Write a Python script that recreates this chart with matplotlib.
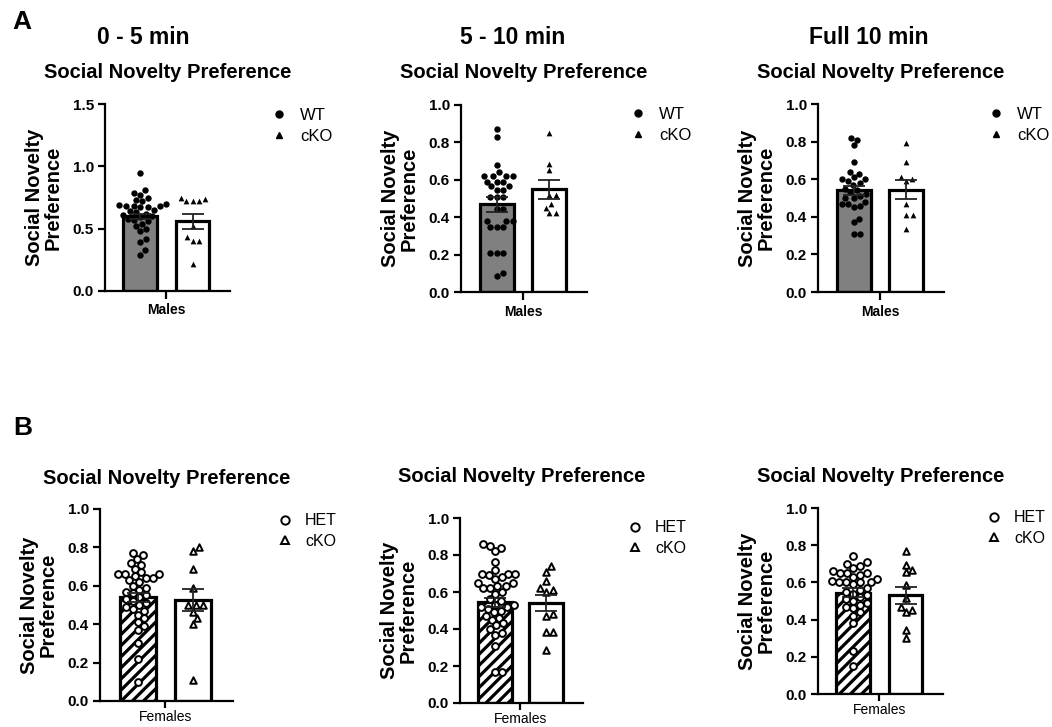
import numpy as np
import matplotlib
matplotlib.use("Agg")
import matplotlib.pyplot as plt
from matplotlib.lines import Line2D

plt.rcParams['font.family'] = ['Liberation Sans', 'DejaVu Sans']
plt.rcParams['hatch.linewidth'] = 2.3

# ---- data ----
time_titles = ["0 - 5 min", "5 - 10 min", "Full 10 min"]
panel_title = "Social Novelty Preference"
ylabel = "Social Novelty\nPreference"

# A: males (WT vs cKO)
males_wt_0_5 = [0.95, 0.81, 0.79, 0.77, 0.75, 0.73, 0.72, 0.70, 0.69, 0.68, 0.68, 0.68,
                0.67, 0.67, 0.65, 0.64, 0.63, 0.62, 0.61, 0.60, 0.59, 0.58, 0.57, 0.56,
                0.54, 0.52, 0.50, 0.48, 0.42, 0.39, 0.33, 0.29]
males_cko_0_5 = [0.74, 0.72, 0.72, 0.72, 0.75, 0.52, 0.43, 0.40, 0.40, 0.22]
males_wt_5_10 = [0.87, 0.83, 0.68, 0.64, 0.62, 0.62, 0.62, 0.62, 0.59, 0.59, 0.59,
                 0.565, 0.565, 0.545, 0.545, 0.51, 0.51, 0.51, 0.445, 0.445, 0.38,
                 0.38, 0.38, 0.35, 0.35, 0.35, 0.21, 0.21, 0.21, 0.10, 0.085]
males_cko_5_10 = [0.85, 0.685, 0.65, 0.52, 0.52, 0.45, 0.42, 0.47, 0.42]
males_wt_full = [0.82, 0.81, 0.78, 0.69, 0.64, 0.63, 0.61, 0.60, 0.60, 0.59, 0.58, 0.57,
                 0.55, 0.54, 0.53, 0.52, 0.51, 0.50, 0.50, 0.48, 0.47, 0.47, 0.46, 0.45,
                 0.39, 0.37, 0.31, 0.31]
males_cko_full = [0.79, 0.69, 0.61, 0.59, 0.60, 0.47, 0.41, 0.41, 0.335]

# B: females (HET vs cKO)
females_het_0_5 = [0.77, 0.76, 0.74, 0.72, 0.71, 0.69, 0.67, 0.66, 0.66, 0.66, 0.65, 0.64,
                   0.64, 0.63, 0.62, 0.60, 0.59, 0.58, 0.57, 0.56, 0.55, 0.54, 0.53, 0.52,
                   0.51, 0.50, 0.49, 0.48, 0.47, 0.45, 0.43, 0.41, 0.39, 0.37, 0.30, 0.22,
                   0.10]
females_cko_0_5 = [0.78, 0.80, 0.69, 0.59, 0.50, 0.50, 0.50, 0.465, 0.43, 0.40, 0.11]
females_het_5_10 = [0.86, 0.85, 0.84, 0.82, 0.76, 0.72, 0.70, 0.70, 0.70, 0.69, 0.68, 0.67,
                    0.65, 0.65, 0.63, 0.63, 0.62, 0.62, 0.60, 0.59, 0.56, 0.55, 0.53, 0.53,
                    0.52, 0.52, 0.51, 0.50, 0.49, 0.47, 0.46, 0.45, 0.43, 0.42, 0.40, 0.38,
                    0.37, 0.31, 0.17, 0.17]
females_cko_5_10 = [0.74, 0.71, 0.66, 0.62, 0.61, 0.60, 0.48, 0.47, 0.385, 0.385, 0.285]
females_het_full = [0.74, 0.71, 0.70, 0.69, 0.68, 0.66, 0.65, 0.65, 0.65, 0.64, 0.63, 0.62,
                    0.61, 0.60, 0.60, 0.60, 0.60, 0.59, 0.57, 0.56, 0.55, 0.54, 0.53, 0.52,
                    0.51, 0.50, 0.49, 0.48, 0.47, 0.46, 0.44, 0.42, 0.38, 0.23, 0.15]
females_cko_full = [0.77, 0.695, 0.655, 0.665, 0.585, 0.515, 0.47, 0.44, 0.45, 0.345, 0.30]

# bar heights (mean) and SEM as drawn
males_means = [(0.60, 0.56), (0.47, 0.55), (0.54, 0.545)]
males_sems = [(0.02, 0.06), (0.04, 0.05), (0.025, 0.05)]
females_means = [(0.54, 0.525), (0.545, 0.54), (0.545, 0.53)]
females_sems = [(0.025, 0.058), (0.025, 0.045), (0.025, 0.045)]

males_groups = ["WT", "cKO"]
females_groups = ["HET", "cKO"]

W, H = 1052, 727
fig = plt.figure(figsize=(W / 100, H / 100), dpi=100)

# layout in pixels: left, right, top, bottom of each axes
boxes_a = [(105, 230, 104, 291), (461, 587, 105, 292), (818, 944, 104, 292)]
boxes_b = [(100, 233, 509, 701), (460, 583, 518, 703), (818, 943, 508, 694)]
legend_a = [(279, 118), (638, 117), (996, 117)]
legend_b = [(285, 523), (635, 530), (994, 520)]
title_y_a = [72, 72, 72]
title_y_b = [478, 477, 477]
XLIM = (-0.68, 1.72)


def fx(px):
    return px / W


def fy(py):
    return 1 - py / H


def swarm_offsets(vals, sy, d):
    """Beeswarm placement in pixel space; returns x offsets in px."""
    vals = np.asarray(vals, dtype=float)
    offs = np.zeros(len(vals))
    placed = []
    for i in np.argsort(vals):
        y = vals[i] * sy
        near = [(px, py) for px, py in placed if abs(py - y) < d]
        cands = [0.0]
        for px, py in near:
            dx = np.sqrt(d * d - (py - y) ** 2)
            cands += [px + dx, px - dx]
        cands.sort(key=lambda c: (round(abs(c), 3), -c))
        for c in cands:
            if all((c - px) ** 2 + (y - py) ** 2 >= d * d - 1e-6 for px, py in near):
                offs[i] = c
                break
        placed.append((offs[i], y))
    return offs


def draw_panel(box, series, means, sems, xlabel, ymax, yticks, females):
    l, r, t, b = box
    ax = fig.add_axes([fx(l), fy(b), fx(r - l), (b - t) / H])
    ax.set_xlim(*XLIM)
    ax.set_ylim(0, ymax)
    sx = (r - l) / (XLIM[1] - XLIM[0])
    sy = (b - t) / ymax

    if females:
        ax.bar(0, means[0], width=0.65, color='white', edgecolor='black',
               linewidth=2.3, hatch='///', zorder=1)
    else:
        ax.bar(0, means[0], width=0.65, color='#808080', edgecolor='black',
               linewidth=2.3, zorder=1)
    ax.bar(1, means[1], width=0.65, color='white', edgecolor='black',
           linewidth=2.3, zorder=1)

    markers = ['o', '^']
    for k, vals in enumerate(series):
        d = 7.2 if females else 6.5
        offs = swarm_offsets(vals, sy, d)
        xs = k + offs / sx
        if females:
            ax.scatter(xs, vals, s=24 if k == 0 else 22, marker=markers[k],
                       facecolor='white', edgecolor='black', linewidth=1.4, zorder=3)
        else:
            ax.scatter(xs, vals, s=21 if k == 0 else 17, marker=markers[k],
                       color='black', linewidth=0, zorder=3)

    ax.errorbar([0, 1], means, yerr=sems, fmt='none', ecolor='#222222',
                elinewidth=1.3, capsize=8, capthick=1.3, zorder=4)

    for s in ['top', 'right']:
        ax.spines[s].set_visible(False)
    for s in ['left', 'bottom']:
        ax.spines[s].set_linewidth(1.6)
    ax.set_xticks([0.5])
    ax.set_xticklabels([xlabel], fontsize=10,
                       fontweight='normal' if females else 'bold')
    ax.set_yticks(yticks)
    ax.set_yticklabels([f"{v:.1f}" for v in yticks], fontsize=11, fontweight='bold')
    ax.tick_params(axis='y', length=5, width=1.6, pad=3)
    ax.tick_params(axis='x', length=5 if females else 6, width=1.6,
                   pad=1.5 if females else 3)

    fig.text(fx(l - 61), fy((t + b) / 2), ylabel, rotation=90, ha='center',
             va='center', fontsize=14.5, fontweight='bold', linespacing=1.0,
             multialignment='center')
    return ax


def add_legend(ax, groups, females, pos, fsize):
    handles = []
    for k, m in enumerate(['o', '^']):
        if females:
            handles.append(Line2D([], [], linestyle='none', marker=m,
                                  markersize=6 if k == 0 else 5.5,
                                  markerfacecolor='white', markeredgecolor='black',
                                  markeredgewidth=1.4))
        else:
            handles.append(Line2D([], [], linestyle='none', marker=m,
                                  markersize=5 if k == 0 else 4.5,
                                  color='black'))
    px, py = pos
    em = fsize * 100 / 72
    ax.legend(handles, groups, loc='upper left', frameon=False,
              bbox_to_anchor=(fx(px - 0.4 * em), fy(py - 0.6 * em)),
              bbox_transform=fig.transFigure, borderaxespad=0, borderpad=0,
              handlelength=0.8, handletextpad=0.85, labelspacing=0.35,
              prop={'size': fsize})


males_series = [(males_wt_0_5, males_cko_0_5), (males_wt_5_10, males_cko_5_10),
                (males_wt_full, males_cko_full)]
females_series = [(females_het_0_5, females_cko_0_5), (females_het_5_10, females_cko_5_10),
                  (females_het_full, females_cko_full)]

for i in range(3):
    ymax = 1.5 if i == 0 else 1.0
    yt = [0.0, 0.5, 1.0, 1.5] if i == 0 else [0.0, 0.2, 0.4, 0.6, 0.8, 1.0]
    ax = draw_panel(boxes_a[i], males_series[i], males_means[i], males_sems[i],
                    "Males", ymax, yt, False)
    add_legend(ax, males_groups, False, legend_a[i], 12)
    l, r, t, b = boxes_a[i]
    fig.text(fx((l + r) / 2), fy(title_y_a[i]), panel_title, ha='center',
             va='center', fontsize=14.5, fontweight='bold')

    ax = draw_panel(boxes_b[i], females_series[i], females_means[i], females_sems[i],
                    "Females", 1.0, [0.0, 0.2, 0.4, 0.6, 0.8, 1.0], True)
    add_legend(ax, females_groups, True, legend_b[i], 11.5)
    l, r, t, b = boxes_b[i]
    fig.text(fx((l + r) / 2), fy(title_y_b[i]), panel_title, ha='center',
             va='center', fontsize=14.5, fontweight='bold')

for x, txt in zip([143, 513, 869], time_titles):
    fig.text(fx(x), fy(37), txt, ha='center', va='center', fontsize=16.5,
             fontweight='bold')

fig.text(fx(22), fy(22), "A", ha='center', va='center', fontsize=19, fontweight='bold')
fig.text(fx(23), fy(428), "B", ha='center', va='center', fontsize=19, fontweight='bold')

fig.savefig("out.png", dpi=100)
